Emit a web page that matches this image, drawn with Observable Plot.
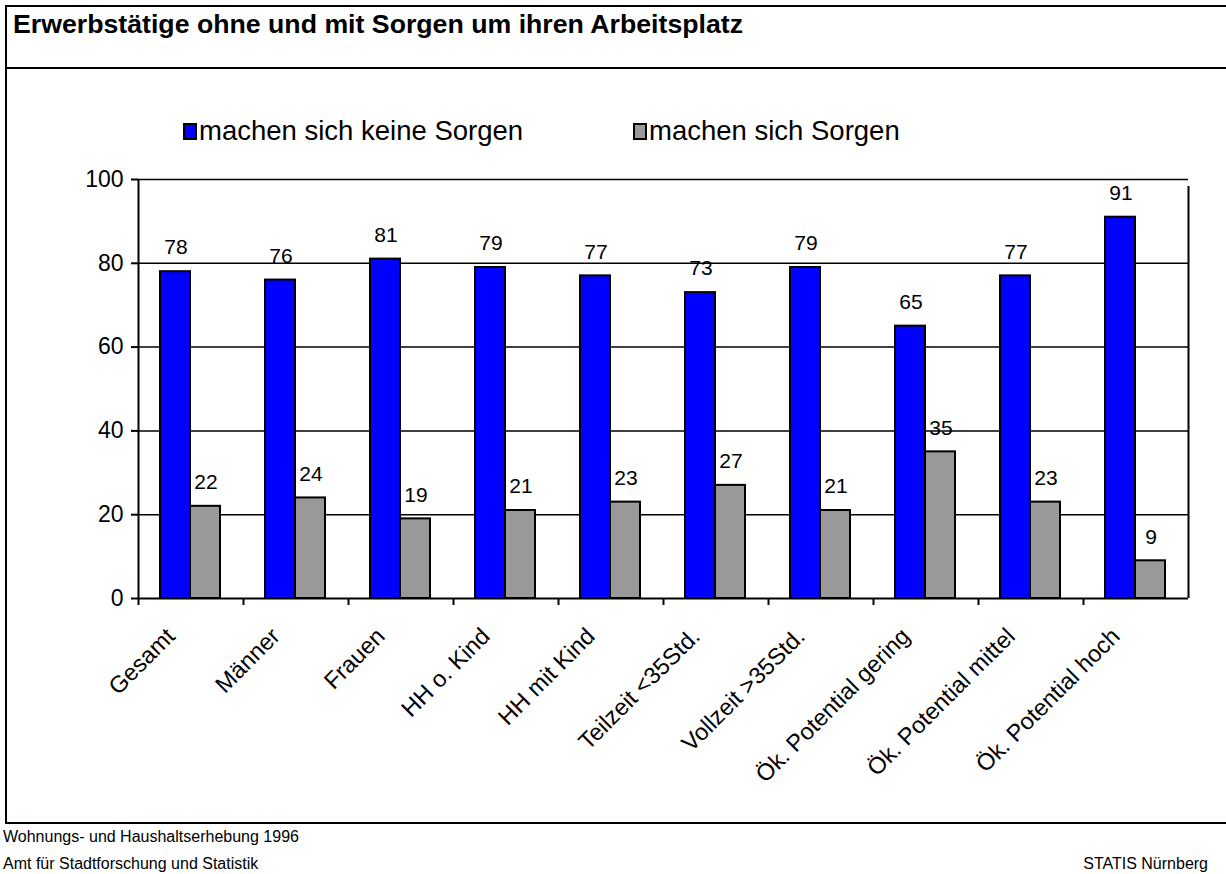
<!DOCTYPE html>
<html>
<head>
<meta charset="utf-8">
<script src="https://cdn.jsdelivr.net/npm/d3@7"></script>
<script src="https://cdn.jsdelivr.net/npm/@observablehq/plot@0.6"></script>
<style>
  html, body { margin: 0; padding: 0; background: #fff; }
  #page { position: relative; width: 1226px; height: 874px; overflow: hidden; font-family: "Liberation Sans", Arial, sans-serif; color: #000; }
  #frame { position: absolute; left: 5px; top: 5px; width: 1240px; height: 819px; border: 2px solid #000; box-sizing: border-box; }
  #sep { position: absolute; left: 5px; top: 67px; width: 1240px; height: 0; border-top: 2px solid #000; }
  #title { position: absolute; left: 13px; top: 9px; font-size: 26.7px; font-weight: bold; white-space: nowrap; }
  .leg { position: absolute; top: 115px; font-size: 27.5px; white-space: nowrap; display: flex; align-items: center; }
  .sw { display: inline-block; width: 10px; height: 13px; border: 2px solid #000; margin-right: 2px; box-sizing: content-box; }
  #chart { position: absolute; left: 0; top: 150px; }
  .foot { position: absolute; font-size: 16px; white-space: nowrap; }
</style>
</head>
<body>
<div id="page">
  <div id="frame"></div>
  <div id="sep"></div>
  <div id="title">Erwerbstätige ohne und mit Sorgen um ihren Arbeitsplatz</div>
  <div id="legend"></div>
  <div id="chart"></div>
  <div class="foot" style="left:3px; top:828px;">Wohnungs- und Haushaltserhebung 1996</div>
  <div class="foot" style="left:3px; top:855px;">Amt für Stadtforschung und Statistik</div>
  <div class="foot" style="right:18px; top:855px;">STATIS Nürnberg</div>
</div>
<script>
const categories = ["Gesamt", "Männer", "Frauen", "HH o. Kind", "HH mit Kind", "Teilzeit <35Std.", "Vollzeit >35Std.", "Ök. Potential gering", "Ök. Potential mittel", "Ök. Potential hoch"];
const keineSorgen = [78, 76, 81, 79, 77, 73, 79, 65, 77, 91];
const sorgen = [22, 24, 19, 21, 23, 27, 21, 35, 23, 9];
const seriesNames = ["machen sich keine Sorgen", "machen sich Sorgen"];
const seriesColors = ["#0000FF", "#999999"];
const yTicks = [0, 20, 40, 60, 80, 100];

const rows = categories.map((c, i) => ({cat: c, keine: keineSorgen[i], sorgen: sorgen[i]}));

// legend
const legend = document.getElementById("legend");
const legLeft = [183, 633];
seriesNames.forEach((n, i) => {
  const d = document.createElement("div");
  d.className = "leg";
  d.style.left = legLeft[i] + "px";
  d.innerHTML = `<span class="sw" style="background:${seriesColors[i]}"></span><span>${n}</span>`;
  legend.appendChild(d);
});

const font = '"Liberation Sans", Arial, sans-serif';
const chart = Plot.plot({
  width: 1226,
  height: 658,
  marginLeft: 138,
  marginRight: 38,
  marginTop: 29,
  marginBottom: 210,
  style: {fontFamily: font, background: "transparent", overflow: "visible"},
  x: {type: "band", domain: categories, padding: 0, axis: null},
  y: {domain: [0, 100], axis: null},
  marks: [
    Plot.ruleY(yTicks.filter(t => t > 0), {y: d => d, stroke: "#000", strokeWidth: 1.5}),
    Plot.barY(rows, {x: "cat", y: "keine", fill: seriesColors[0], stroke: "#000", strokeWidth: 2, insetLeft: 22, insetRight: 53}),
    Plot.barY(rows, {x: "cat", y: "sorgen", fill: seriesColors[1], stroke: "#000", strokeWidth: 2, insetLeft: 52, insetRight: 23}),
    Plot.text(rows, {x: "cat", y: "keine", text: d => String(d.keine), dx: -15, dy: -24, fontSize: 21, fill: "#000"}),
    Plot.text(rows, {x: "cat", y: "sorgen", text: d => String(d.sorgen), dx: 15, dy: -24, fontSize: 21, fill: "#000"}),
    // category boundary ticks
    Plot.ruleX(categories, {x: d => d, dx: -52.5, y1: 0, y2: 0, insetBottom: -7, stroke: "#000", strokeWidth: 2}),
    // left axis line and right border
    Plot.ruleX([categories[0]], {x: d => d, dx: -52.5, y1: 0, y2: 100, stroke: "#000", strokeWidth: 2}),
    Plot.ruleX([categories[categories.length - 1]], {x: d => d, dx: 52.5, y1: 0, y2: 100, insetBottom: -7, stroke: "#000", strokeWidth: 2}),
    Plot.ruleY([0], {stroke: "#000", strokeWidth: 2}),
    Plot.axisY({ticks: yTicks, tickSize: 7, tickPadding: 8, fontSize: 23, stroke: "#000", strokeWidth: 2, tickFormat: d => String(d), label: null, fill: "#000"}),
    Plot.text(categories, {x: d => d, frameAnchor: "bottom", rotate: -45, textAnchor: "end", lineAnchor: "middle", dx: -20, dy: 34, fontSize: 23.5, fill: "#000"})
  ]
});
document.getElementById("chart").appendChild(chart);
</script>
</body>
</html>
